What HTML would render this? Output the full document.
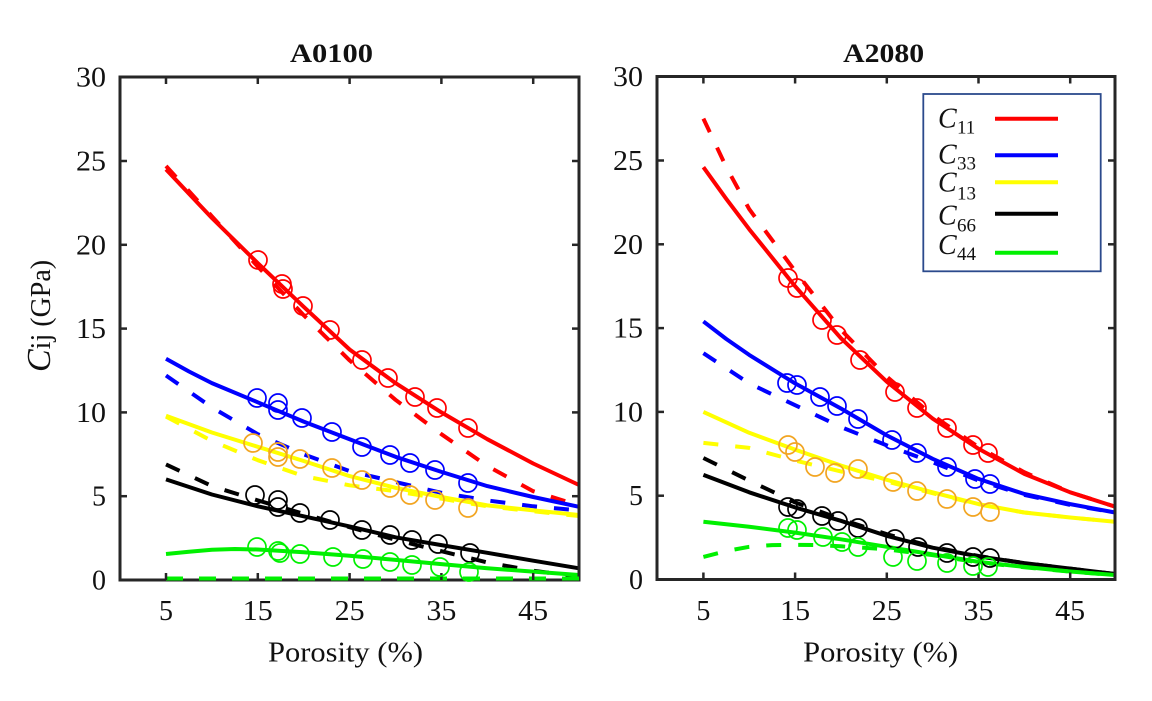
<!DOCTYPE html>
<html>
<head>
<meta charset="utf-8">
<style>
html,body{margin:0;padding:0;background:#fff;}
svg{display:block;}
text{font-family:"Liberation Serif","Times New Roman",serif;fill:#111;}
</style>
</head>
<body>
<svg width="1152" height="701" viewBox="0 0 1152 701" xmlns="http://www.w3.org/2000/svg">
<rect x="0" y="0" width="1152" height="701" fill="#fff"/>

<!-- Titles -->
<text x="331.5" y="62" font-size="26" font-weight="bold" text-anchor="middle" textLength="83" lengthAdjust="spacingAndGlyphs">A0100</text>
<text x="883.7" y="62" font-size="26" font-weight="bold" text-anchor="middle" textLength="81" lengthAdjust="spacingAndGlyphs">A2080</text>

<!-- Y label -->
<text transform="translate(50,372) rotate(-90)" font-size="28"><tspan font-style="italic" font-size="34">C</tspan><tspan>ij (GPa)</tspan></text>

<!-- ================= LEFT PANEL ================= -->
<g fill="none" stroke-width="4" stroke-linejoin="round">
  <polyline stroke="#ff0000" points="166,169.4 211.9,218 257.8,263.2 303.7,306.8 349.6,349.5 395.5,383.1 441.4,412.4 487.3,439.2 533.2,463.5 579,485"/>
  <polyline stroke="#ff0000" stroke-dasharray="15 17" points="166,166 211.9,216.3 257.8,266.6 303.7,315.2 349.6,360.4 395.5,399.8 441.4,434.2 487.3,466 533.2,491.2 579,505.4"/>
  <polyline stroke="#0000ff" points="166,358.8 189,371.5 211.9,383.1 257.8,402.3 303.7,421.6 349.6,439.2 395.5,456.8 441.4,471.9 487.3,486.1 533.2,497 579,506.8"/>
  <polyline stroke="#0000ff" stroke-dasharray="15 17" points="166,375.5 211.9,407.4 257.8,434.2 303.7,454.3 349.6,471.1 395.5,482 441.4,492.8 487.3,500.4 533.2,506.3 579,510.4"/>
  <polyline stroke="#ffff00" points="166,415.8 211.9,432.5 257.8,446.8 303.7,461 349.6,476.1 395.5,487.8 441.4,497 487.3,505.4 533.2,510.4 579,515"/>
  <polyline stroke="#ffff00" stroke-dasharray="15 17" points="166,416.6 211.9,440.9 257.8,460.2 303.7,476.1 349.6,485.3 395.5,491.2 441.4,498.7 487.3,506.3 533.2,511.3 579,516"/>
  <polyline stroke="#000" points="166,479.4 211.9,494.5 257.8,506.3 303.7,516.3 349.6,526.4 395.5,537.3 441.4,545.1 487.3,552.8 533.2,560.7 579,568.3"/>
  <polyline stroke="#000" stroke-dasharray="15 17" points="166,464.4 211.9,486.1 257.8,500.4 303.7,513.8 349.6,527.2 395.5,539.8 441.4,551.2 487.3,562.4 533.2,570.8 579,576.6"/>
  <polyline stroke="#00f000" points="166,554 189,551.7 211.9,549.8 234.9,549 257.8,549.5 303.7,552.3 349.6,555.7 395.5,559.9 441.4,564.1 487.3,568.3 533.2,571.6 579,575"/>
</g>

<rect x="120" y="77" width="459" height="503" fill="none" stroke="#262626" stroke-width="3"/>
<g fill="none" stroke="#00f000" stroke-width="4">
  <polyline stroke-dasharray="17 16" points="166,578.5 579,578.5"/>
</g>
<g stroke="#262626" stroke-width="2.5">
  <line x1="166" y1="580" x2="166" y2="573"/><line x1="257.8" y1="580" x2="257.8" y2="573"/><line x1="349.6" y1="580" x2="349.6" y2="573"/><line x1="441.4" y1="580" x2="441.4" y2="573"/><line x1="533.2" y1="580" x2="533.2" y2="573"/>
  <line x1="166" y1="77" x2="166" y2="84"/><line x1="257.8" y1="77" x2="257.8" y2="84"/><line x1="349.6" y1="77" x2="349.6" y2="84"/><line x1="441.4" y1="77" x2="441.4" y2="84"/><line x1="533.2" y1="77" x2="533.2" y2="84"/>
  <line x1="120" y1="496.2" x2="127" y2="496.2"/><line x1="120" y1="412.4" x2="127" y2="412.4"/><line x1="120" y1="328.6" x2="127" y2="328.6"/><line x1="120" y1="244.8" x2="127" y2="244.8"/><line x1="120" y1="161" x2="127" y2="161"/>
  <line x1="579" y1="496.2" x2="572" y2="496.2"/><line x1="579" y1="412.4" x2="572" y2="412.4"/><line x1="579" y1="328.6" x2="572" y2="328.6"/><line x1="579" y1="244.8" x2="572" y2="244.8"/><line x1="579" y1="161" x2="572" y2="161"/>
</g>

<g fill="none" stroke-width="1.7">
  <g stroke="#ff0000">
    <circle cx="258" cy="260" r="9"/><circle cx="282" cy="284" r="9"/><circle cx="283" cy="289" r="9"/><circle cx="303" cy="306" r="9"/><circle cx="330" cy="330" r="9"/><circle cx="362" cy="360" r="9"/><circle cx="388" cy="378" r="9"/><circle cx="415" cy="397" r="9"/><circle cx="437" cy="408" r="9"/><circle cx="468" cy="428" r="9"/>
  </g>
  <g stroke="#0000ff">
    <circle cx="257" cy="398" r="9"/><circle cx="278" cy="403" r="9"/><circle cx="278" cy="410" r="9"/><circle cx="302" cy="418" r="9"/><circle cx="332" cy="432" r="9"/><circle cx="362" cy="447" r="9"/><circle cx="390" cy="455" r="9"/><circle cx="410" cy="463" r="9"/><circle cx="435" cy="470" r="9"/><circle cx="468" cy="483" r="9"/>
  </g>
  <g stroke="#f2a522">
    <circle cx="253" cy="443" r="9"/><circle cx="278" cy="452" r="9"/><circle cx="278" cy="457" r="9"/><circle cx="300" cy="459" r="9"/><circle cx="332" cy="468" r="9"/><circle cx="362" cy="480" r="9"/><circle cx="390" cy="488" r="9"/><circle cx="410" cy="495" r="9"/><circle cx="435" cy="500" r="9"/><circle cx="468" cy="508" r="9"/>
  </g>
  <g stroke="#000">
    <circle cx="255" cy="495" r="9"/><circle cx="278" cy="500" r="9"/><circle cx="278" cy="507" r="9"/><circle cx="300" cy="513" r="9"/><circle cx="330" cy="520" r="9"/><circle cx="362" cy="530" r="9"/><circle cx="390" cy="535" r="9"/><circle cx="412" cy="540" r="9"/><circle cx="438" cy="544" r="9"/><circle cx="470" cy="553" r="9"/>
  </g>
  <g stroke="#00f000">
    <circle cx="257" cy="547" r="9"/><circle cx="278" cy="551" r="9"/><circle cx="280" cy="553" r="9"/><circle cx="300" cy="554" r="9"/><circle cx="333" cy="557" r="9"/><circle cx="363" cy="559" r="9"/><circle cx="390" cy="562" r="9"/><circle cx="412" cy="565" r="9"/><circle cx="440" cy="567" r="9"/><circle cx="469" cy="572" r="9"/>
  </g>
</g>

<g font-size="28" text-anchor="end">
  <text x="106" y="589.5">0</text>
  <text x="106" y="505.7">5</text>
  <text x="106" y="421.9" textLength="30" lengthAdjust="spacingAndGlyphs">10</text>
  <text x="106" y="338.1" textLength="30" lengthAdjust="spacingAndGlyphs">15</text>
  <text x="106" y="254.3" textLength="30" lengthAdjust="spacingAndGlyphs">20</text>
  <text x="106" y="170.5" textLength="30" lengthAdjust="spacingAndGlyphs">25</text>
  <text x="106" y="86.7" textLength="30" lengthAdjust="spacingAndGlyphs">30</text>
</g>
<g font-size="28" text-anchor="middle">
  <text x="166" y="620">5</text>
  <text x="257.8" y="620" textLength="30" lengthAdjust="spacingAndGlyphs">15</text>
  <text x="349.6" y="620" textLength="30" lengthAdjust="spacingAndGlyphs">25</text>
  <text x="441.4" y="620" textLength="30" lengthAdjust="spacingAndGlyphs">35</text>
  <text x="533.2" y="620" textLength="30" lengthAdjust="spacingAndGlyphs">45</text>
  <text x="345.5" y="661.5" textLength="155" lengthAdjust="spacingAndGlyphs">Porosity (%)</text>
</g>

<!-- ================= RIGHT PANEL ================= -->
<g fill="none" stroke-width="4" stroke-linejoin="round">
  <polyline stroke="#ff0000" points="703.4,167.2 726.3,198.9 749.2,229.2 795.1,286.2 840.9,338.2 886.8,381.7 932.6,418.6 978.5,448.8 1024.3,473.9 1070.2,492.3 1115,506.6"/>
  <polyline stroke="#ff0000" stroke-dasharray="15 17" points="703.4,118.6 726.3,167.2 749.2,209.1 795.1,271.1 840.9,329.8 886.8,376.7 932.6,415.3 978.5,447.1 1024.3,472.2 1070.2,492.3 1115,506.6"/>
  <polyline stroke="#0000ff" points="703.4,321.4 726.3,339 749.2,354.9 795.1,383.4 840.9,408.5 886.8,435.4 932.6,458.8 978.5,478.9 1024.3,494 1070.2,504.1 1115,512.5"/>
  <polyline stroke="#0000ff" stroke-dasharray="15 17" points="703.4,353.2 749.2,383.4 795.1,405.2 840.9,427 886.8,445.4 932.6,462.2 978.5,480.6 1024.3,494.9 1070.2,504.9 1115,512.5"/>
  <polyline stroke="#ffff00" points="703.4,411.9 749.2,432.8 795.1,449.6 840.9,465.5 886.8,479.8 932.6,492.3 978.5,504.1 1024.3,512.5 1070.2,517.5 1115,521.7"/>
  <polyline stroke="#ffff00" stroke-dasharray="15 17" points="703.4,442.9 749.2,447.9 795.1,460.5 840.9,471.4 886.8,481.5 932.6,493.2 978.5,504.4 1024.3,512.5 1070.2,517.5 1115,521.7"/>
  <polyline stroke="#000" points="703.4,474.9 749.2,492.3 795.1,507.4 840.9,520.8 886.8,535.9 932.6,547.7 978.5,556.4 1024.3,563.1 1070.2,568.6 1115,574"/>
  <polyline stroke="#000" stroke-dasharray="15 17" points="703.4,458 749.2,480.6 795.1,502.4 840.9,519.2 886.8,534.2 932.6,546.8 978.5,556 1024.3,563.1 1070.2,568.6 1115,574"/>
  <polyline stroke="#00f000" points="703.4,521.7 749.2,526.7 795.1,532.6 840.9,539.3 886.8,546.8 932.6,554.4 978.5,561.9 1024.3,566.9 1070.2,571.5 1115,575"/>
  <polyline stroke="#00f000" stroke-dasharray="15 17" points="703.4,556.9 726.3,551 749.2,546.8 772.1,545.1 795.1,544.8 818,545.1 840.9,546.3 863.8,547.7 886.8,549.3 932.6,555.2 978.5,562.4 1024.3,567.3 1070.2,571.6 1115,575"/>
</g>

<rect x="657" y="76.5" width="458" height="503" fill="none" stroke="#262626" stroke-width="3"/>
<g stroke="#262626" stroke-width="2.5">
  <line x1="703.4" y1="579.5" x2="703.4" y2="572.5"/><line x1="795.1" y1="579.5" x2="795.1" y2="572.5"/><line x1="886.8" y1="579.5" x2="886.8" y2="572.5"/><line x1="978.5" y1="579.5" x2="978.5" y2="572.5"/><line x1="1070.2" y1="579.5" x2="1070.2" y2="572.5"/>
  <line x1="703.4" y1="76.5" x2="703.4" y2="83.5"/><line x1="795.1" y1="76.5" x2="795.1" y2="83.5"/><line x1="886.8" y1="76.5" x2="886.8" y2="83.5"/><line x1="978.5" y1="76.5" x2="978.5" y2="83.5"/><line x1="1070.2" y1="76.5" x2="1070.2" y2="83.5"/>
  <line x1="657" y1="495.7" x2="664" y2="495.7"/><line x1="657" y1="411.9" x2="664" y2="411.9"/><line x1="657" y1="328.1" x2="664" y2="328.1"/><line x1="657" y1="244.3" x2="664" y2="244.3"/><line x1="657" y1="160.5" x2="664" y2="160.5"/>
  <line x1="1115" y1="495.7" x2="1108" y2="495.7"/><line x1="1115" y1="411.9" x2="1108" y2="411.9"/><line x1="1115" y1="328.1" x2="1108" y2="328.1"/><line x1="1115" y1="244.3" x2="1108" y2="244.3"/><line x1="1115" y1="160.5" x2="1108" y2="160.5"/>
</g>

<g fill="none" stroke-width="1.7">
  <g stroke="#ff0000">
    <circle cx="788" cy="278" r="9"/><circle cx="797" cy="288" r="9"/><circle cx="822" cy="320" r="9"/><circle cx="837" cy="335" r="9"/><circle cx="860" cy="360" r="9"/><circle cx="895" cy="392" r="9"/><circle cx="917" cy="408" r="9"/><circle cx="947" cy="428" r="9"/><circle cx="973" cy="445" r="9"/><circle cx="988" cy="453" r="9"/>
  </g>
  <g stroke="#0000ff">
    <circle cx="787" cy="383" r="9"/><circle cx="797" cy="385" r="9"/><circle cx="820" cy="397" r="9"/><circle cx="837" cy="406" r="9"/><circle cx="858" cy="419" r="9"/><circle cx="892" cy="440" r="9"/><circle cx="917" cy="453" r="9"/><circle cx="947" cy="467" r="9"/><circle cx="975" cy="479" r="9"/><circle cx="990" cy="484" r="9"/>
  </g>
  <g stroke="#f2a522">
    <circle cx="788" cy="445" r="9"/><circle cx="795" cy="452" r="9"/><circle cx="815" cy="467" r="9"/><circle cx="835" cy="473" r="9"/><circle cx="858" cy="469" r="9"/><circle cx="893" cy="482" r="9"/><circle cx="917" cy="491" r="9"/><circle cx="947" cy="499" r="9"/><circle cx="973" cy="507" r="9"/><circle cx="990" cy="512" r="9"/>
  </g>
  <g stroke="#000">
    <circle cx="788" cy="507" r="9"/><circle cx="797" cy="509" r="9"/><circle cx="822" cy="516" r="9"/><circle cx="838" cy="521" r="9"/><circle cx="858" cy="528" r="9"/><circle cx="895" cy="539" r="9"/><circle cx="918" cy="547" r="9"/><circle cx="947" cy="553" r="9"/><circle cx="973" cy="557" r="9"/><circle cx="990" cy="558" r="9"/>
  </g>
  <g stroke="#00f000">
    <circle cx="788" cy="528" r="9"/><circle cx="797" cy="530" r="9"/><circle cx="823" cy="537" r="9"/><circle cx="842" cy="542" r="9"/><circle cx="858" cy="547" r="9"/><circle cx="893" cy="557" r="9"/><circle cx="917" cy="561" r="9"/><circle cx="947" cy="563" r="9"/><circle cx="973" cy="566" r="9"/><circle cx="988" cy="567" r="9"/>
  </g>
</g>

<g font-size="28" text-anchor="end">
  <text x="643" y="589">0</text>
  <text x="643" y="505.2">5</text>
  <text x="643" y="421.4" textLength="30" lengthAdjust="spacingAndGlyphs">10</text>
  <text x="643" y="337.6" textLength="30" lengthAdjust="spacingAndGlyphs">15</text>
  <text x="643" y="253.8" textLength="30" lengthAdjust="spacingAndGlyphs">20</text>
  <text x="643" y="170" textLength="30" lengthAdjust="spacingAndGlyphs">25</text>
  <text x="643" y="86.2" textLength="30" lengthAdjust="spacingAndGlyphs">30</text>
</g>
<g font-size="28" text-anchor="middle">
  <text x="703.4" y="620">5</text>
  <text x="795.1" y="620" textLength="30" lengthAdjust="spacingAndGlyphs">15</text>
  <text x="886.8" y="620" textLength="30" lengthAdjust="spacingAndGlyphs">25</text>
  <text x="978.5" y="620" textLength="30" lengthAdjust="spacingAndGlyphs">35</text>
  <text x="1070.2" y="620" textLength="30" lengthAdjust="spacingAndGlyphs">45</text>
  <text x="880.7" y="661.5" textLength="155" lengthAdjust="spacingAndGlyphs">Porosity (%)</text>
</g>

<!-- Legend -->
<rect x="923.3" y="94" width="177.4" height="177.3" fill="#fff" stroke="#2b4a8c" stroke-width="1.8"/>
<g stroke-width="4">
  <line x1="995" y1="118.7" x2="1058" y2="118.7" stroke="#ff0000"/>
  <line x1="995" y1="155.3" x2="1058" y2="155.3" stroke="#0000ff"/>
  <line x1="995" y1="182.3" x2="1058" y2="182.3" stroke="#ffff00"/>
  <line x1="995" y1="213.7" x2="1058" y2="213.7" stroke="#000"/>
  <line x1="995" y1="252.7" x2="1058" y2="252.7" stroke="#00f000"/>
</g>
<g>
  <text x="938" y="127.3" font-size="28" font-style="italic">C</text><text x="957" y="133.5" font-size="19">11</text>
  <text x="938" y="163.7" font-size="28" font-style="italic">C</text><text x="957" y="169.5" font-size="19">33</text>
  <text x="938" y="191.3" font-size="28" font-style="italic">C</text><text x="957" y="199.5" font-size="19">13</text>
  <text x="938" y="224.7" font-size="28" font-style="italic">C</text><text x="957" y="231.5" font-size="19">66</text>
  <text x="938" y="254" font-size="28" font-style="italic">C</text><text x="957" y="259.8" font-size="19">44</text>
</g>
</svg>
</body>
</html>
